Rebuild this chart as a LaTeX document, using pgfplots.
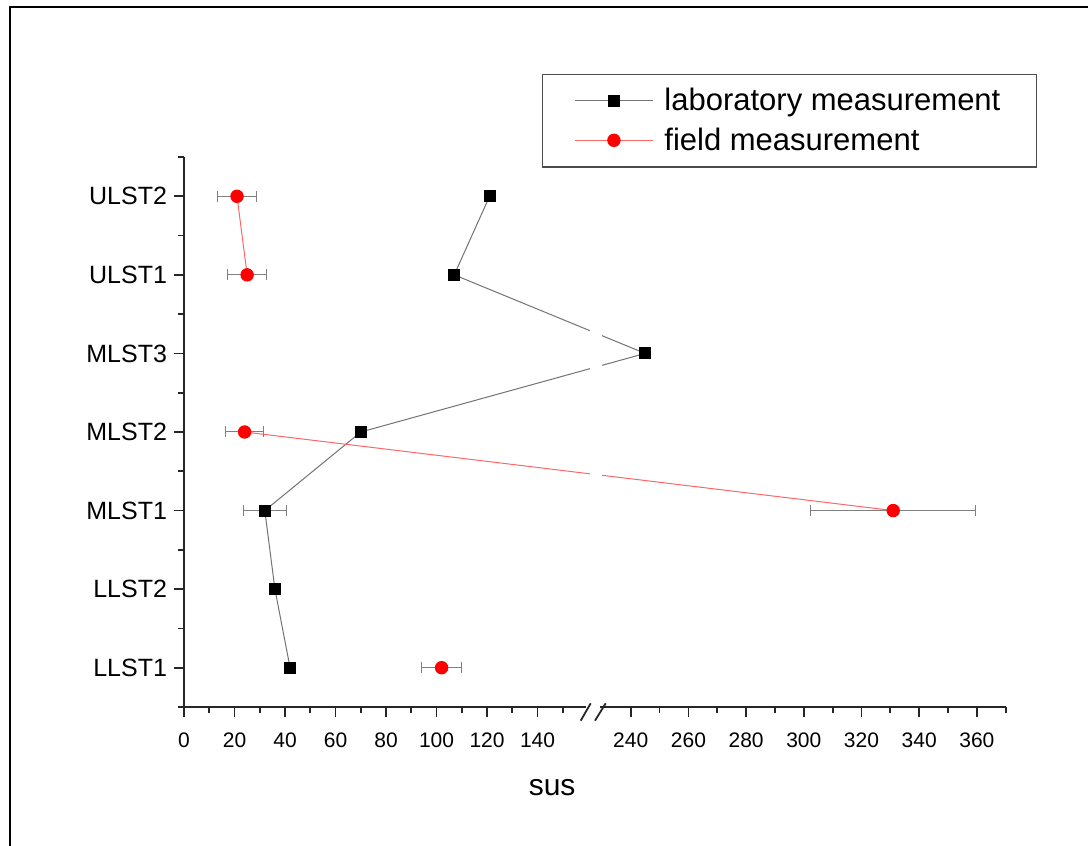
\documentclass[border=0pt]{standalone}
\usepackage{pgfplots}
\pgfplotsset{compat=1.18}
\usepackage{fontspec}
\setmainfont{Liberation Sans}
\begin{document}
\begin{tikzpicture}
\useasboundingbox (0,0) rectangle (544pt,423pt);
\draw[line width=1.3pt] (5pt,-20pt) -- (5pt,419.5pt) -- (600pt,419.5pt);
\begin{axis}[
  at={(92pt,69.5pt)}, anchor=south west,
  scale only axis, width=410.85pt, height=275pt,
  x coord trafo/.code={\pgfmathparse{ifthenelse(#1<=194,2.527*#1,447+2.886*(#1-240))}},
  xmin=0, xmax=370, ymin=0.5, ymax=7.5,
  axis x line*=bottom, axis y line*=left,
  axis line style={black!85, line width=0.9pt},
  tick align=outside,
  major tick length=5pt, minor tick length=3pt,
  tick style={black!85, line width=0.9pt},
  xtick={0,20,40,60,80,100,120,140,240,260,280,300,320,340,360},
  xticklabels={0,20,40,60,80,100,120,140,240,260,280,300,320,340,360},
  minor xtick={10,30,50,70,90,110,130,150,250,270,290,310,330,350,370},
  ytick={1,2,3,4,5,6,7},
  yticklabels={LLST1,LLST2,MLST1,MLST2,MLST3,ULST1,ULST2},
  minor ytick={0.5,1.5,2.5,3.5,4.5,5.5,6.5,7.5},
  xticklabel style={font=\fontsize{10.5}{12}\selectfont, yshift=-4.5pt},
  yticklabel style={font=\fontsize{12.5}{14}\selectfont},
  xlabel={sus},
  xlabel style={font=\fontsize{15}{18}\selectfont, at={(axis description cs:0.448,0)}, anchor=center, yshift=-40.5pt},
  legend style={at={(axis description cs:1.0381,1.1518)}, anchor=north east,
    draw=black!70, line width=0.6pt, font=\fontsize{15.5}{19.5}\selectfont,
    row sep=3pt, column sep=3.5pt, inner xsep=16pt, inner ysep=5pt},
  legend cell align=left,
  legend image code/.code={\draw[mark repeat=2,mark phase=2,#1] plot coordinates {(0pt,0pt) (19.5pt,0pt) (39pt,0pt)};},
  clip=false
]
% error bars (low / high ends)
\pgfplotsset{ebar/.style={forget plot, black!50, line width=0.5pt, mark=|, mark size=2.75pt, mark options={black!50, line width=0.5pt}}}
\addplot[ebar] coordinates {(23.5,3) (40.5,3)};
\addplot[ebar] coordinates {(94.2,1) (109.8,1)};
\addplot[ebar] coordinates {(302.4,3) (359.6,3)};
\addplot[ebar] coordinates {(16.4,4) (31.6,4)};
\addplot[ebar] coordinates {(17.3,6) (32.7,6)};
\addplot[ebar] coordinates {(13.3,7) (28.7,7)};
% laboratory measurement
\addplot[black!55, line width=0.5pt, mark=square*, mark size=2.75pt,
  mark options={black, solid}]
  coordinates {(42,1) (36,2) (32,3) (70,4) (245,5) (107,6) (121,7)};
\addlegendentry{laboratory measurement}
% field measurement (gaps at LLST2 and MLST3)
\addplot[red!60, line width=0.5pt, mark=*, mark size=3.1pt,
  mark options={fill=red, draw=red, solid}]
  coordinates {(102,1)};
\addlegendentry{field measurement}
\addplot[forget plot, red!60, line width=0.5pt, mark=*, mark size=3.1pt,
  mark options={fill=red, draw=red, solid}]
  coordinates {(331,3) (24,4)};
\addplot[forget plot, red!60, line width=0.5pt, mark=*, mark size=3.1pt,
  mark options={fill=red, draw=red, solid}]
  coordinates {(25,6) (21,7)};
\end{axis}
% break decoration
\fill[white] (295pt,72pt) rectangle (301pt,336pt);
\fill[white] (293pt,67pt) rectangle (300pt,72pt);
\draw[black!85, line width=0.9pt] (290.35pt,62.65pt) -- (295.35pt,71.35pt);
\draw[black!85, line width=0.9pt] (297.5pt,62.65pt) -- (302.85pt,71.35pt);
\end{tikzpicture}
\end{document}
